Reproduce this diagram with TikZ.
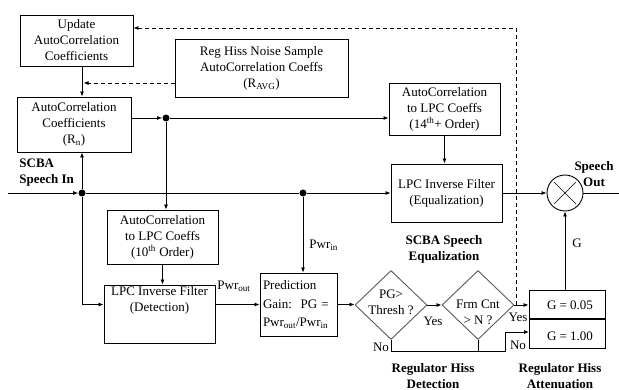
\documentclass[tikz,border=0pt]{standalone}
\usepackage{fontspec}
\setmainfont{Liberation Serif}
\usetikzlibrary{shapes.geometric,arrows.meta,calc}

\begin{document}
\begin{tikzpicture}[x=1pt,y=-1pt,
  every node/.style={font=\fontsize{13}{16}\selectfont},
  line width=0.8pt,
  blk/.style={draw,line width=0.9pt,inner sep=2pt,align=center},
  dia/.style={diamond,draw=black!65,line width=0.9pt,inner sep=0pt,
    minimum width=72pt,minimum height=69pt},
  dot/.style={circle,fill=black,inner sep=0pt,minimum size=7pt},
  arr/.style={-{Latex[length=5pt,width=4pt]}},
  darr/.style={arr,dash pattern=on 4pt off 3pt},
  lbl/.style={inner sep=1pt},
  bold/.style={font=\fontsize{13}{16}\selectfont\bfseries,align=center,inner sep=0pt}
]
\useasboundingbox (0,0) rectangle (619,390);

% processing blocks
\node[blk,minimum width=113pt,minimum height=51pt] (upd) at (76.5,40.5)
  {Update\\AutoCorrelation\\Coefficients};
\node[blk,minimum width=173pt,minimum height=58pt] (reg) at (261.5,68)
  {Reg Hiss Noise Sample\\AutoCorrelation Coeffs\\(R\textsubscript{AVG})};
\node[blk,minimum width=114pt,minimum height=55pt] (acc) at (74,124.5)
  {AutoCorrelation\\Coefficients\\(R\textsubscript{n})};
\node[blk,minimum width=111pt,minimum height=52pt] (lpc14) at (444.5,109)
  {AutoCorrelation\\to LPC Coeffs\\(14\textsuperscript{th}+ Order)};
\node[blk,minimum width=111pt,minimum height=58pt] (eq) at (446.5,193)
  {LPC Inverse Filter\\(Equalization)};
\node[blk,minimum width=111pt,minimum height=54pt] (lpc10) at (162.5,237)
  {AutoCorrelation\\to LPC Coeffs\\(10\textsuperscript{th} Order)};
\node[blk,minimum width=111pt,minimum height=58pt] (det) at (159.5,314) {};
\node[anchor=north,align=center,inner sep=2pt] (dettxt) at (det.north)
  {LPC Inverse Filter\\(Detection)};
\node[blk,minimum width=77pt,minimum height=63pt,text width=71pt,align=left,
  inner sep=3pt,font=\fontsize{13}{18.5}\selectfont] (pg) at (298.5,304.5)
  {Prediction\\Gain:\ \ PG =\\Pwr\textsubscript{out}/Pwr\textsubscript{in}};

% decisions
\node[dia] (dPG) at (391,305) {};
\node[align=center,inner sep=0pt] (dPGt) at (391,302) {PG>\\Thresh ?};
\node[dia] (dFC) at (478,305) {};
\node[align=center,inner sep=0pt] (dFCt) at (478,312) {Frm Cnt\\> N ?};

% attenuation gains
\node[blk,minimum width=76pt,minimum height=58pt] (att) at (567,319) {};
\draw[line width=1.8pt] (att.west) -- (att.east);
\node (g05) at (570,305) {G = 0.05};
\node (g1) at (570,336) {G = 1.00};

% multiplier
\node[circle,draw,line width=0.9pt,minimum size=36pt,inner sep=0pt] (mult) at (565,193) {};
\draw[line width=0.6pt] ($(mult.center)+(-11,-11)$) -- ($(mult.center)+(11,11)$);
\draw[line width=0.6pt] ($(mult.center)+(-11,11)$) -- ($(mult.center)+(11,-11)$);

% junctions and free ends
\node[dot] (d1) at (82,193) {};
\node[dot] (d2) at (166,118) {};
\node[dot] (d3) at (303,193) {};
\coordinate (in) at (8,193);
\coordinate (out) at (619,193);
\coordinate (topc) at (0,28);
\coordinate (regy) at (0,83);
\coordinate (nb) at (505,351);
\coordinate (g2) at (529,332);
\coordinate (fb) at ($(dFC.east)+(1.5,0)$);

% signal flow
\draw[arr] (in) -- (d1);
\draw (d1) -- (d3);
\draw[arr] (d3) -- (eq.west);
\draw[arr] (eq.east) -- (mult.west);
\draw (mult.east) -- (out);
\draw[arr] (d1) -- (d1 |- acc.south);
\draw[arr] (upd.south -| d1) -- (acc.north -| d1);
\draw[arr] (acc.east |- d2) -- (d2);
\draw[arr] (d2) -- (d2 -| lpc14.west);
\draw[arr] (d2) -- (d2 |- lpc10.north);
\draw[arr] (lpc14.south) -- (lpc14.south |- eq.north);
\draw[arr] (lpc10.south) -- (lpc10.south |- det.north);
\draw[arr] (d1) |- (det.west |- pg.west);
\draw[arr] (det.east |- pg.west) -- (pg.west);
\draw[arr] (d3) -- (d3 |- pg.north);
\draw[arr] (pg.east) -- (pg.east -| dPG.west);
\draw[arr] (dPG.east) -- (dFC.west);
\draw[arr] (dFC.east) -- (dFC.east -| att.west);
\draw[arr] (dPG.south) |- (nb) |- (g2);
\draw (dFC.south) -- (dFC.south |- nb);
\draw[arr] (att.north -| mult) -- (mult.south);

% coefficient update (dashed)
\draw[darr] (fb) -- (fb |- topc) -- (upd.east |- topc);
\draw[darr,shorten >=1.5pt] (reg.west |- regy) -- (d1 |- regy);

% labels
\node[lbl,anchor=west] (lpin) at (308,245) {Pwr\textsubscript{in}};
\node[lbl,anchor=west] (lpout) at (216,286) {Pwr\textsubscript{out}};
\node[lbl] (lg) at (577,243) {G};
\node[lbl] (ly1) at (433,321) {Yes};
\node[lbl] (ly2) at (518,317) {Yes};
\node[lbl] (ln1) at (381,347) {No};
\node[lbl] (ln2) at (518,345) {No};

\node[bold,align=left,anchor=west] (tin) at (19,173) {SCBA\\Speech In};
\node[bold] (tout) at (594,174) {Speech\\Out};
\node[bold] (teq) at (444,249.5) {SCBA Speech\\Equalization};
\node[bold] (tdet) at (433,376) {Regulator Hiss\\Detection};
\node[bold] (tatt) at (560,376) {Regulator Hiss\\Attenuation};
\end{tikzpicture}
\end{document}
